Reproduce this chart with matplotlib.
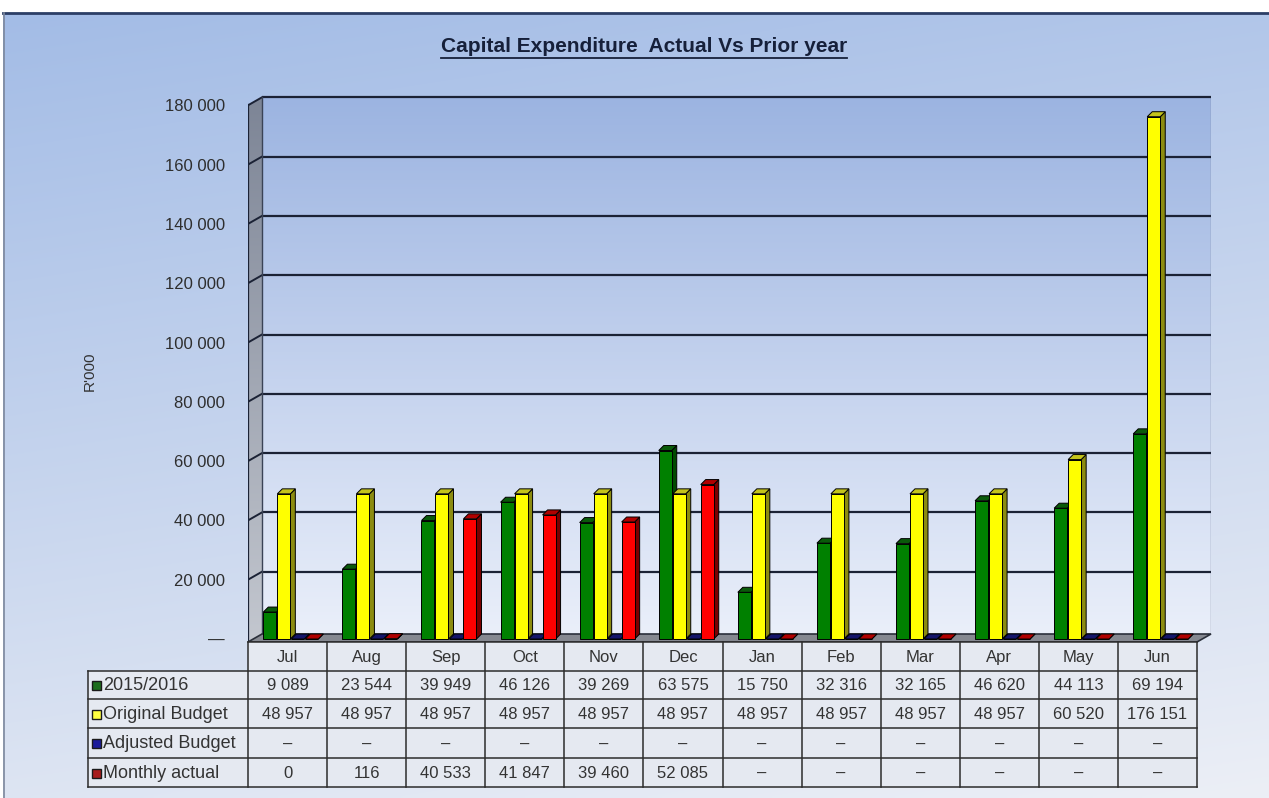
import numpy as np
import matplotlib
matplotlib.use("Agg")
import matplotlib.pyplot as plt
from matplotlib.patches import Polygon, Rectangle
import matplotlib.colors as mcolors

# ---- data -------------------------------------------------------------
months = ["Jul", "Aug", "Sep", "Oct", "Nov", "Dec",
          "Jan", "Feb", "Mar", "Apr", "May", "Jun"]
prior_year = [9089, 23544, 39949, 46126, 39269, 63575,
              15750, 32316, 32165, 46620, 44113, 69194]
original_budget = [48957, 48957, 48957, 48957, 48957, 48957,
                   48957, 48957, 48957, 48957, 60520, 176151]
adjusted_budget = [None, None, None, None, None, None,
                   None, None, None, None, None, None]
monthly_actual = [0, 116, 40533, 41847, 39460, 52085,
                  None, None, None, None, None, None]
series_names = ["2015/2016", "Original Budget", "Adjusted Budget", "Monthly actual"]
y_ticks = [0, 20000, 40000, 60000, 80000, 100000, 120000, 140000, 160000, 180000]

# face / side / top colours per series
front_cols = ["#008000", "#ffff00", "#000080", "#ff0000"]
side_cols = ["#004a00", "#8c8c10", "#00004a", "#7a0000"]
top_cols = ["#0a5a0a", "#c4c41c", "#15156a", "#b00000"]
key_cols = ["#1d6e1d", "#ffff40", "#1a1a9a", "#a81c1c"]

plt.rcParams["font.family"] = ["Liberation Sans", "DejaVu Sans"]

W, H = 1269, 798
fig = plt.figure(figsize=(W / 100, H / 100), dpi=100)
fig.patch.set_facecolor("white")

# ---- background (pixel coords, y down) --------------------------------
bg = fig.add_axes([0, 0, 1, 1], zorder=0)
bg.axis("off")
ny, nx = 200, 200
yy, xx = np.mgrid[0:1:ny * 1j, 0:1:nx * 1j]
t = np.clip(0.8 * yy + 0.2 * xx, 0, 1)[..., None]
c_top = np.array(mcolors.to_rgb("#a3bce6"))
c_bot = np.array(mcolors.to_rgb("#eceff6"))
bg.imshow(c_top * (1 - t) + c_bot * t, extent=(3, W, H, 13), origin="upper",
          aspect="auto", interpolation="bilinear")
bg.plot([3, W], [13, 13], color="#2c3e66", lw=2)
bg.plot([4, 4], [13, H], color="#7c879c", lw=1.2)
bg.set_xlim(0, W)
bg.set_ylim(H, 0)

# ---- main chart axes ---------------------------------------------------
px_per_val = 59.3 / 20000.0
y_zero_px = 639.0
ax_left, ax_right, ax_top, ax_bot = 248, 1211, 95, 642
cat_w = (1197 - 248) / 12.0
dx = 14 / cat_w                  # wall depth (x, data units)
dyv = 8 / px_per_val             # wall depth (y, data units)
v_bot = (y_zero_px - ax_bot) / px_per_val
v_top = (y_zero_px - ax_top) / px_per_val
x_lo, x_hi = -0.5, -0.5 + (ax_right - ax_left) / cat_w

ax = fig.add_axes([ax_left / W, 1 - ax_bot / H, (ax_right - ax_left) / W,
                   (ax_bot - ax_top) / H], zorder=1)
ax.patch.set_alpha(0)
for s in ax.spines.values():
    s.set_visible(False)

# back wall with gradient
wall_top = y_ticks[-1] + dyv
g = np.linspace(0, 1, 256)[:, None, None]
wt = np.array(mcolors.to_rgb("#9cb4e1"))
wb = np.array(mcolors.to_rgb("#eaeffa"))
ax.imshow(wt * (1 - g) + wb * g, extent=(-0.5 + dx, x_hi, v_bot + dyv, wall_top),
          origin="upper", aspect="auto", zorder=0, interpolation="bilinear")
ax.plot([x_hi, x_hi], [v_bot + dyv, wall_top], color="#7a86a0", lw=1, zorder=1)

# left wall
lw_poly = Polygon([(-0.5, v_bot), (-0.5, y_ticks[-1]), (-0.5 + dx, wall_top),
                   (-0.5 + dx, v_bot + dyv)], closed=True, facecolor="none",
                  edgecolor="none", clip_on=False)
ax.add_patch(lw_poly)
lt = np.array(mcolors.to_rgb("#7d8596"))
lb = np.array(mcolors.to_rgb("#c3c7cf"))
im_lw = ax.imshow(lt * (1 - g) + lb * g, extent=(-0.5, -0.5 + dx, v_bot, wall_top),
                  origin="upper", aspect="auto", zorder=1, interpolation="bilinear")
im_lw.set_clip_path(lw_poly)

# gridlines (back wall + left wall)
for v in y_ticks[1:]:
    ax.plot([-0.5 + dx, x_hi], [v + dyv, v + dyv], color="#1b2235", lw=1.6,
            zorder=1.5, solid_capstyle="butt")
    ax.plot([-0.5, -0.5 + dx], [v, v + dyv], color="#1b2235", lw=1.4, zorder=1.5)
ax.plot([-0.5, -0.5], [v_bot, y_ticks[-1]], color="#1b2235", lw=1.6, zorder=1.6)
ax.plot([-0.5 + dx, -0.5 + dx], [v_bot + dyv, wall_top], color="#3a4356", lw=1, zorder=1.6)

# floor
floor = Polygon([(-0.5, v_bot), (11.5, v_bot), (x_hi, v_bot + dyv), (-0.5 + dx, v_bot + dyv)],
                closed=True, facecolor="#858890", edgecolor="#2a2f3a", lw=1.2,
                zorder=2, clip_on=False)
ax.add_patch(floor)

# bars with a little 3-D depth
series = [prior_year, original_budget, adjusted_budget, monthly_actual]
offsets = [-0.224, -0.047, 0.13, 0.307]
bw = 13 / cat_w
bdx = 5 / cat_w
bdy = 5 / px_per_val
x = np.arange(len(months))
for j, vals in enumerate(series):
    h = [0 if v is None else v for v in vals]
    z = 3 + j * 0.1
    bars = ax.bar(x + offsets[j], h, width=bw, bottom=0, color=front_cols[j],
                  edgecolor="black", linewidth=0.7, zorder=z)
    for r in bars:
        x0 = r.get_x()
        x1 = x0 + r.get_width()
        hh = r.get_height()
        side = Polygon([(x1, 0), (x1 + bdx, bdy), (x1 + bdx, hh + bdy), (x1, hh)],
                       closed=True, facecolor=side_cols[j], edgecolor="black",
                       lw=0.7, zorder=z - 0.01)
        top = Polygon([(x0, hh), (x0 + bdx, hh + bdy), (x1 + bdx, hh + bdy), (x1, hh)],
                      closed=True, facecolor=top_cols[j], edgecolor="black",
                      lw=0.7, zorder=z + 0.01)
        ax.add_patch(side)
        ax.add_patch(top)

ax.set_xlim(x_lo, x_hi)
ax.set_ylim(v_bot, v_top)
ax.set_xticks([])
ax.set_yticks(y_ticks)
ax.set_yticklabels(["\u2014"] + [f"{v:,}".replace(",", " ") for v in y_ticks[1:]])
ax.tick_params(axis="y", length=0, pad=16.5, labelsize=12, labelcolor="#2e2e2e")

fig.text(90 / W, 1 - 371 / H, "R'000", rotation=90, ha="center", va="center",
         fontsize=11, color="#333333")

# ---- title -------------------------------------------------------------
ov = fig.add_axes([0, 0, 1, 1], zorder=2)
ov.patch.set_alpha(0)
ov.axis("off")
ov.set_xlim(0, W)
ov.set_ylim(H, 0)
title = ov.text(644, 47, "Capital Expenditure  Actual Vs Prior year", ha="center",
                va="center", fontsize=15, fontweight="bold", color="#16203a")

# ---- data table --------------------------------------------------------
tab_left, tab_x0 = 88, 248
row_y = [642, 671, 699, 728, 758, 787]
cell_bg = "#e5e9f1"
line_c = "#2c2c2c"
ov.add_patch(Rectangle((tab_x0, row_y[0]), 12 * cat_w, row_y[1] - row_y[0],
                       facecolor=cell_bg, edgecolor="none", zorder=1))
ov.add_patch(Rectangle((tab_left, row_y[1]), tab_x0 + 12 * cat_w - tab_left,
                       row_y[-1] - row_y[1], facecolor=cell_bg, edgecolor="none", zorder=1))

tab_right = tab_x0 + 12 * cat_w
for k, yv in enumerate(row_y):
    xs = tab_x0 if k == 0 else tab_left
    ov.plot([xs, tab_right], [yv, yv], color=line_c, lw=1.1, zorder=2)
ov.plot([tab_left, tab_left], [row_y[1], row_y[-1]], color=line_c, lw=1.1, zorder=2)
for i in range(13):
    xv = tab_x0 + i * cat_w
    ov.plot([xv, xv], [row_y[0], row_y[-1]], color=line_c, lw=1.1, zorder=2)

for i, m in enumerate(months):
    cx = tab_x0 + (i + 0.5) * cat_w
    ov.text(cx, (row_y[0] + row_y[1]) / 2 + 1, m, ha="center", va="center",
            fontsize=12, color="#333333", zorder=3)

for k, (name, vals) in enumerate(zip(series_names, series)):
    cy = (row_y[k + 1] + row_y[k + 2]) / 2 + 1
    ov.add_patch(Rectangle((92, cy - 5), 9, 9, facecolor=key_cols[k],
                           edgecolor="#1a1a1a", lw=1, zorder=3))
    ov.text(103, cy, name, ha="left", va="center", fontsize=13,
            color="#333333", zorder=3)
    for i, v in enumerate(vals):
        cx = tab_x0 + (i + 0.5) * cat_w
        txt = "\u2013" if v is None else f"{v:,}".replace(",", " ")
        ov.text(cx, cy, txt, ha="center", va="center", fontsize=12,
                color="#333333", zorder=3)

# underline the title
fig.canvas.draw()
bb = title.get_window_extent().transformed(ov.transData.inverted())
ov.plot([bb.x0, bb.x1], [58, 58], color="#16203a", lw=1.3)

fig.savefig("out.png", dpi=100, facecolor=fig.get_facecolor())
